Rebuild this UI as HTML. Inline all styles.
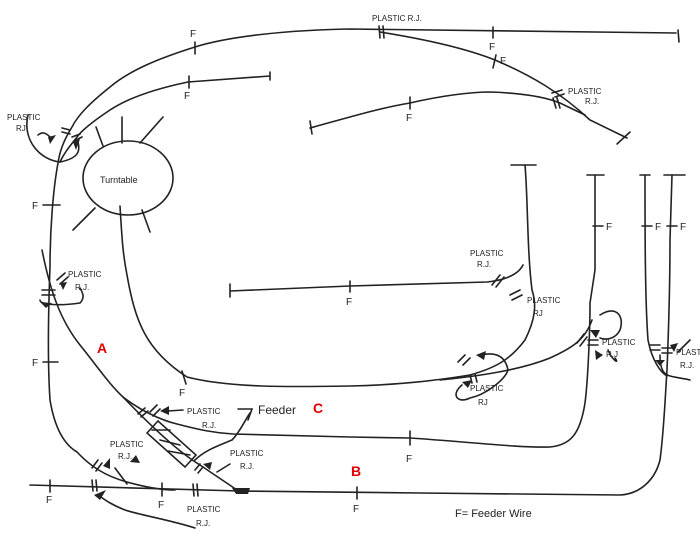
<!DOCTYPE html>
<html><head><meta charset="utf-8"><style>
html,body{margin:0;padding:0;background:#fff;}
svg{display:block}
text{font-family:"Liberation Sans",sans-serif;fill:#222;}
</style></head><body>
<svg width="700" height="541" viewBox="0 0 700 541" xmlns="http://www.w3.org/2000/svg">
<g fill="none" stroke="#222" stroke-width="1.6" stroke-linecap="round">
<path d="M676,33 L350,29 C290,30 230,36 195,47 C160,58 130,70 110,87 C90,103 78,115 72,127 C64,140 60,150 58,163 C53,190 50,230 50,267 C48,320 48,370 50,400 C55,430 65,445 77,452 C90,466 105,476 127,482 C145,487 160,490 175,490"/>
<path d="M678,30 L679,42"/>
<path d="M380,32 C430,40 470,50 495,60 C530,75 560,92 590,120 L627,138"/>
<path d="M617,144 L630,132"/>
<path d="M310,128 C350,117 380,108 410,103 C440,96 470,92 490,92 C520,93 545,97 560,103 L585,115"/>
<path d="M310,121 L312,134"/>
<path d="M270,72 L270,80 M270,76 L188,82 C150,90 125,100 110,110 C95,120 82,130 77,137 C70,146 64,153 60,162"/>
<ellipse cx="128" cy="178" rx="45" ry="37"/>
<path d="M122,117 L122,143 M96,127 L103,146 M163,117 L140,143 M73,230 L95,208 M150,232 L142,210"/>
<path d="M120,206 C122,240 123,255 127,275 C135,320 145,350 187,377 C230,388 290,387 350,386 C400,385 440,380 470,375 C495,368 510,360 525,340 C535,320 537,305 532,290 C527,250 528,200 525,165"/>
<path d="M511,165 L536,165"/>
<path d="M230,284 L230,297 M230,291 L350,286 L487,282 C505,280 518,275 523,265"/>
<path d="M42,250 C50,290 60,320 80,345 C100,370 110,385 123,397 C145,420 175,450 200,465 L240,492"/>
<path d="M123,397 C140,410 160,420 177,424 C200,430 215,433 233,434 L350,437 L410,438 C470,442 520,448 550,447 C570,445 580,435 585,403 C588,380 590,330 590,303 L595,270 L595,175"/>
<path d="M587,175 L604,175"/>
<path d="M440,380 C480,376 520,370 550,358 C572,348 585,340 592,320"/>
<path d="M30,485 L240,491 L420,493 L620,495 C640,494 655,480 660,460 C664,430 665,400 667,370 C669,320 670,280 670,240 L672,175"/>
<path d="M664,175 L685,175"/>
<path d="M645,175 C645,230 645,300 648,340 C652,360 660,372 667,376"/>
<path d="M640,175 L650,175"/>
<path d="M195,42 L195,54 M189,76 L189,88 M493,27 L493,38 M496,55 L493,68 M410,97 L410,109 M43,205 L60,205 M43,362 L58,362 M350,281 L350,292 M182,371 L186,384 M410,431 L410,445 M593,226 L603,226 M642,226 L652,226 M667,226 L677,226 M50,480 L50,492 M162,483 L162,496 M357,487 L357,499"/>
<path d="M62,128 L70,130 M62,132 L70,134 M72,137 L80,134 M74,141 L82,137 M379,26 L380,38 M383,26 L384,38 M552,93 L562,90 M555,97 L564,94 M553,98 L556,108 M557,98 L560,108"/>
<path d="M42,290 L55,290 M42,295 L55,295 M57,280 L65,273 M60,284 L68,277 M510,295 L520,290 M512,300 L522,295 M492,285 L500,275 M496,287 L504,277"/>
<path d="M577,343 L584,334 M580,346 L587,337 M588,340 L598,340 M588,345 L598,345 M458,362 L465,355 M463,365 L470,358 M470,375 L472,383 M475,374 L477,382 M650,345 L660,345 M650,350 L660,350 M662,348 L672,348 M662,353 L672,353"/>
<path d="M138,414 L145,408 M141,417 L148,411 M150,412 L157,405 M153,416 L160,409 M92,468 L98,460 M96,471 L102,463 M92,480 L93,491 M96,480 L97,491 M193,484 L194,496 M197,484 L198,496 M195,470 L200,464 M198,473 L203,467"/>
<path d="M147,433 L158,421 L196,455 L185,467 Z M152,430 L170,430 M160,440 L180,445 M168,451 L190,455"/>
<path d="M28,115 C22,140 40,160 60,162 C80,158 80,150 78,142"/>
<path d="M38,135 C42,132 45,132 50,137"/>
<path d="M40,300 C40,305 60,306 80,303 C85,298 83,293 80,288"/>
<path d="M462,385 C450,395 458,404 470,398 C485,395 505,380 508,370 C505,355 495,352 480,355"/>
<path d="M600,315 C615,305 625,315 620,330 C615,340 605,340 600,338 M608,350 C612,360 620,365 615,358"/>
<path d="M660,355 C660,380 670,375 690,380 M678,352 L690,340"/>
<path d="M195,460 C205,450 220,445 232,440 C240,432 245,420 250,413"/>
<path d="M238,409 L252,409 L248,420"/>
<path d="M195,528 C170,520 140,515 125,510 C112,505 105,500 98,495"/>
<path d="M217,472 L230,464 M183,410 L168,411"/>
<path d="M127,484 L115,468"/>
</g>
<g fill="#222">
<path d="M48,137 L56,135 L50,144 Z"/><path d="M73,142 L80,139 L76,150 Z"/>
<path d="M40,302 L52,303 L46,308 Z"/><path d="M60,283 L67,282 L63,290 Z"/>
<path d="M462,382 L472,380 L468,388 Z"/><path d="M476,355 L486,351 L484,360 Z"/>
<path d="M590,330 L600,330 L596,338 Z"/><path d="M595,350 L603,355 L596,360 Z"/>
<path d="M655,360 L665,360 L660,366 Z"/><path d="M670,345 L678,343 L674,352 Z"/>
<path d="M103,466 L110,458 L110,469 Z"/><path d="M130,462 L136,455 L140,463 Z"/>
<path d="M203,464 L212,462 L210,470 Z"/><path d="M94,495 L106,490 L100,500 Z"/>
<path d="M232,488 L250,488 L248,494 L236,494 Z"/><path d="M160,411 L169,406 L169,415 Z"/>
</g>
<g font-size="8">
<text x="7" y="120">PLASTIC</text><text x="16" y="131">RJ</text>
<text x="372" y="21">PLASTIC R.J.</text>
<text x="568" y="94">PLASTIC</text><text x="585" y="104">R.J.</text>
<text x="470" y="256">PLASTIC</text><text x="477" y="267">R.J.</text>
<text x="527" y="303">PLASTIC</text><text x="533" y="316">RJ</text>
<text x="68" y="277">PLASTIC</text><text x="75" y="290">R.J.</text>
<text x="602" y="345">PLASTIC</text><text x="606" y="357">R.J</text>
<text x="676" y="355">PLASTIC</text><text x="680" y="368">R.J.</text>
<text x="470" y="391">PLASTIC</text><text x="478" y="405">RJ</text>
<text x="187" y="414">PLASTIC</text><text x="202" y="428">R.J.</text>
<text x="110" y="447">PLASTIC</text><text x="118" y="459">R.J.</text>
<text x="230" y="456">PLASTIC</text><text x="240" y="469">R.J.</text>
<text x="187" y="512">PLASTIC</text><text x="196" y="526">R.J.</text>
</g>
<g font-size="10">
<text x="190" y="37">F</text><text x="184" y="99">F</text><text x="500" y="64">F</text><text x="489" y="50">F</text>
<text x="406" y="121">F</text><text x="32" y="209">F</text><text x="32" y="366">F</text><text x="346" y="305">F</text>
<text x="179" y="396">F</text><text x="406" y="462">F</text><text x="606" y="230">F</text><text x="655" y="230">F</text>
<text x="680" y="230">F</text><text x="46" y="503">F</text><text x="158" y="508">F</text><text x="353" y="512">F</text>
</g>
<text x="100" y="183" font-size="9">Turntable</text>
<text x="258" y="414" font-size="12">Feeder</text>
<text x="455" y="517" font-size="11">F= Feeder  Wire</text>
<g font-weight="bold" font-size="14">
<text x="97" y="353" style="fill:#e00000">A</text>
<text x="351" y="476" style="fill:#e00000">B</text>
<text x="313" y="413" style="fill:#e00000">C</text>
</g>
</svg>
</body></html>
